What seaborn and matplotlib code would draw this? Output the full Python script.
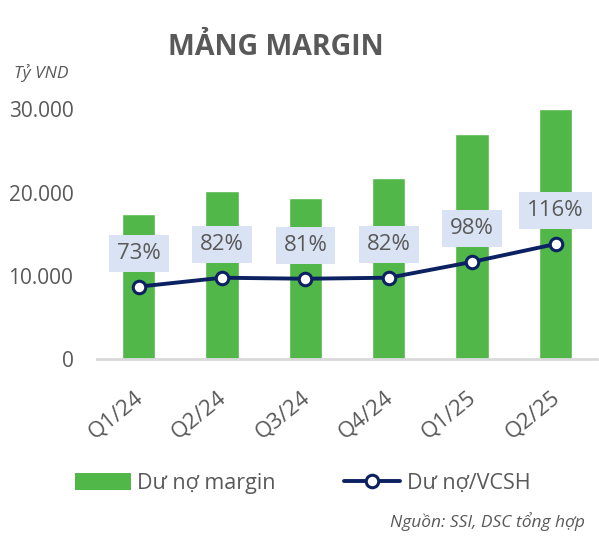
import numpy as np
import pandas as pd
import matplotlib.pyplot as plt
import matplotlib.transforms as mtransforms
import seaborn as sns
from matplotlib.ticker import FuncFormatter
from matplotlib.patches import Patch
from matplotlib.lines import Line2D

quarters = ['Q1/24', 'Q2/24', 'Q3/24', 'Q4/24', 'Q1/25', 'Q2/25']
margin_debt = [17400, 20200, 19300, 21800, 27000, 30000]  # ty VND
debt_to_equity = [73, 82, 81, 82, 98, 116]  # %

GREEN = '#50B748'
NAVY = '#0B2161'
GREY = '#595959'

sns.set_theme(style='white')
plt.rcParams['font.family'] = ['Open Sans', 'DejaVu Sans']

df = pd.DataFrame({'quarter': quarters, 'margin': margin_debt, 'ratio': debt_to_equity})

fig = plt.figure(figsize=(5.99, 5.43), dpi=100)
ax = fig.add_axes([0.162, 0.339, 0.835, 0.475])

sns.barplot(data=df, x='quarter', y='margin', color=GREEN, width=0.4,
            saturation=1, ax=ax)
ax.set_xlim(-0.5, len(quarters) - 0.5)
ax.set_ylim(0, 31000)
ax.set_yticks([0, 10000, 20000, 30000])
ax.yaxis.set_major_formatter(FuncFormatter(lambda v, p: f'{int(v):,}'.replace(',', '.')))
ax.tick_params(axis='y', labelsize=15, labelcolor=GREY, length=0, pad=17)
ax.tick_params(axis='x', labelsize=16, labelcolor=GREY, length=0, pad=20)
shift = mtransforms.ScaledTranslation(-5 / 100, 0, fig.dpi_scale_trans)
for lab in ax.get_xticklabels():
    lab.set_rotation(39)
    lab.set_ha('right')
    lab.set_rotation_mode('anchor')
    lab.set_transform(lab.get_transform() + shift)
ax.set_xlabel('')
ax.set_ylabel('')
for s in ['top', 'right', 'left']:
    ax.spines[s].set_visible(False)
ax.spines['bottom'].set_color('#D9D9D9')
ax.spines['bottom'].set_linewidth(2)

# ratio on a hidden second axis (100% ~ 11.900 on left scale)
ax2 = ax.twinx()
ax2.set_ylim(0, 31000 / 119)
sns.lineplot(x=np.arange(len(quarters)), y=debt_to_equity, ax=ax2, color=NAVY,
             lw=2.8, marker='o', markersize=9, markerfacecolor='white',
             markeredgecolor=NAVY, markeredgewidth=2.2)
ax2.set_axis_off()
for i, v in enumerate(debt_to_equity):
    ax2.annotate(f'{v}%', (i, v), xytext=(0, 24), textcoords='offset points',
                 ha='center', va='center', fontsize=16, color=GREY,
                 bbox=dict(boxstyle='square,pad=0.36', fc='#DAE3F3', ec='none'))

fig.text(0.461, 0.913, 'MẢNG MARGIN', ha='center', va='center', fontsize=20.5,
         fontweight='bold', color=GREY)
fig.text(0.024, 0.866, 'Tỷ VND', ha='left', va='center', fontsize=12.5,
         style='italic', color=GREY)
fig.text(0.977, 0.04, 'Nguồn: SSI, DSC tổng hợp', ha='right', va='center',
         fontsize=12.5, style='italic', color=GREY)

handles = [Patch(fc=GREEN, ec='none'),
           Line2D([], [], color=NAVY, lw=2.8, marker='o', markersize=9,
                  markerfacecolor='white', markeredgecolor=NAVY, markeredgewidth=2.2)]
fig.legend(handles, ['Dư nợ margin', 'Dư nợ/VCSH'], loc='center',
           bbox_to_anchor=(0.505, 0.11), ncol=2, frameon=False, fontsize=15.5,
           handlelength=2.6, handleheight=0.9, columnspacing=3.2,
           handletextpad=0.3, labelcolor=GREY)

fig.savefig('out.png', dpi=100)
